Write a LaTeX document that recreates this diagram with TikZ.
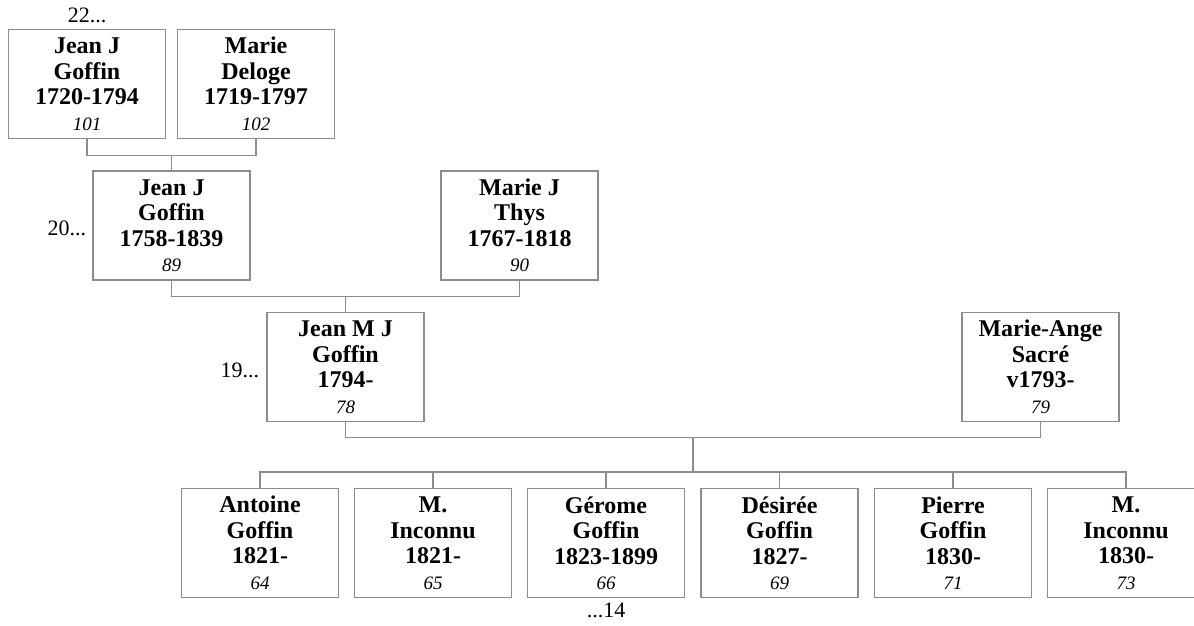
\documentclass[tikz,border=0pt]{standalone}
\usepackage{fontspec}
\setmainfont{Liberation Serif}
\usetikzlibrary{positioning,calc}
\tikzset{
  person/.style={draw=black!45, line width=1.2pt, minimum width=157pt,
    minimum height=109pt, inner sep=0pt, align=center,
    font=\fontsize{24}{25.5}\selectfont\bfseries},
  gen/.style={inner sep=0pt, font=\fontsize{22}{24}\selectfont},
  link/.style={draw=black!45, line width=1.2pt}
}
\newcommand{\idno}[1]{{\fontsize{19}{22}\selectfont\mdseries\itshape #1}}
\begin{document}
\begin{tikzpicture}[x=1pt,y=-1pt]
      \useasboundingbox (0,0) rectangle (1194,626);
      \path
        (87,84) node[person] (101){Jean J\\Goffin\\1720-1794\\\idno{101}}
        (256,84) node[person] (102){Marie\\Deloge\\1719-1797\\\idno{102}}
        (171.5,225.5) node[person] (89){Jean J\\Goffin\\1758-1839\\\idno{89}}
        (519.5,225.5) node[person] (90){Marie J\\Thys\\1767-1818\\\idno{90}}
        (345.5,367) node[person] (78){Jean M J\\Goffin\\1794-\\\idno{78}}
        (1040.5,367) node[person] (79){Marie-Ange\\Sacré\\v1793-\\\idno{79}}
        (260,543) node[person] (64){Antoine\\Goffin\\1821-\\\idno{64}}
        (433,543) node[person] (65){M.\\Inconnu\\1821-\\\idno{65}}
        (606,543) node[person] (66){Gérome\\Goffin\\1823-1899\\\idno{66}}
        (779.5,543) node[person] (69){Désirée\\Goffin\\1827-\\\idno{69}}
        (953,543) node[person] (71){Pierre\\Goffin\\1830-\\\idno{71}}
        (1126,543) node[person] (73){M.\\Inconnu\\1830-\\\idno{73}};
      % generation markers
      \node[gen, above=6pt of 101] (g22) {22...};
      \node[gen, left=6pt of 89, yshift=-3pt] (g20) {20...};
      \node[gen, left=7pt of 78, yshift=-3pt] (g19) {19...};
      \node[gen, below=5pt of 66] (g14) {...14};
      \begin{scope}[link]
        \draw (101.south) -- ++(0,16) coordinate (bar1) -| (102.south);
        \draw (89.north) -- (89.north |- bar1);
        \draw (89.south) -- ++(0,16) coordinate (bar2) -| (90.south);
        \draw (78.north) -- (78.north |- bar2);
        \draw (78.south) -- ++(0,15) coordinate (bar3) -| (79.south);
        \coordinate (mid3) at ($(78.south)!0.5!(79.south)$);
        \draw (64.north) -- ++(0,-16) coordinate (bar4) -| (73.north);
        \draw (mid3 |- bar3) -- (mid3 |- bar4);
        \foreach \c in {65,66,69,71}
          \draw (\c.north) -- (\c.north |- bar4);
      \end{scope}
    \end{tikzpicture}
\end{document}
